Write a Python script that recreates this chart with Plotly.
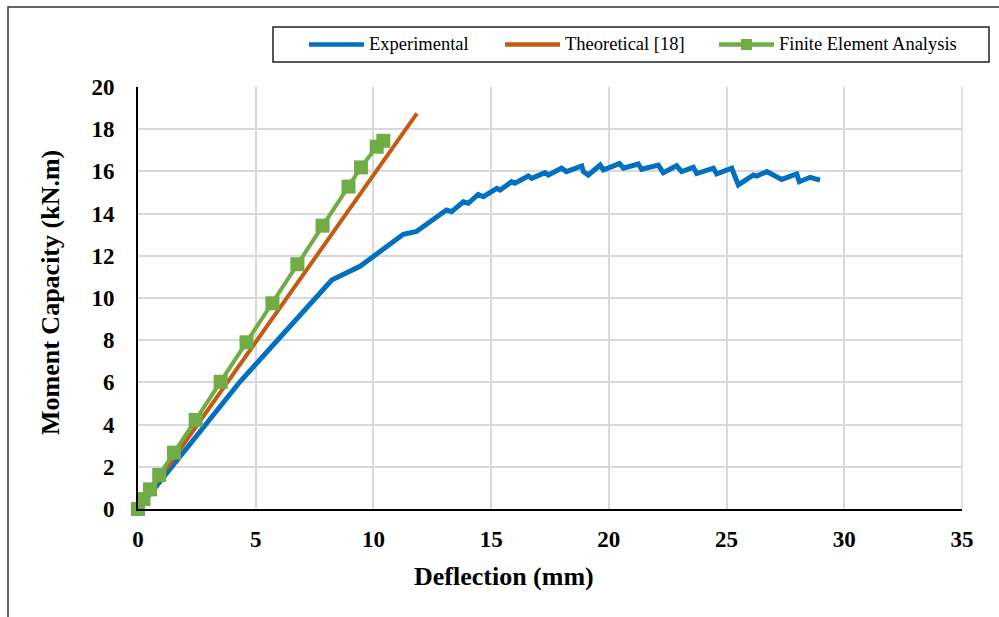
import plotly.graph_objects as go

# Experimental moment-deflection record
exp_defl = [0, 4.33, 8.23, 9.43, 11.27, 11.83, 13.10, 13.32, 13.82, 14.03, 14.45, 14.67,
            15.24, 15.38, 15.87, 16.01, 16.58, 16.72, 17.29, 17.43, 17.99, 18.20, 18.85,
            18.92, 19.13, 19.63, 19.77, 20.45, 20.62, 21.25, 21.39, 22.10, 22.31, 22.88,
            23.09, 23.59, 23.73, 24.44, 24.58, 25.22, 25.50, 26.14, 26.28, 26.71, 27.34,
            27.98, 28.09, 28.55, 28.97]
exp_moment = [0, 6.03, 10.85, 11.50, 13.02, 13.15, 14.17, 14.09, 14.56, 14.49, 14.91, 14.80,
              15.20, 15.12, 15.51, 15.44, 15.78, 15.67, 15.94, 15.83, 16.15, 15.99, 16.26,
              15.99, 15.83, 16.30, 16.07, 16.37, 16.15, 16.35, 16.10, 16.30, 15.94, 16.27,
              15.99, 16.19, 15.90, 16.15, 15.88, 16.15, 15.36, 15.83, 15.78, 15.99, 15.62,
              15.88, 15.51, 15.72, 15.59]

# Theoretical prediction [18]
theo_defl = [0, 11.85]
theo_moment = [0, 18.75]

# Finite element results
fea_defl = [0, 0.23, 0.51, 0.90, 1.53, 2.45, 3.51, 4.61, 5.71, 6.77, 7.84, 8.94, 9.47, 10.14, 10.42]
fea_moment = [0, 0.47, 0.93, 1.61, 2.67, 4.22, 6.03, 7.90, 9.75, 11.60, 13.43, 15.28, 16.19, 17.17, 17.45]

x_ticks = [0, 5, 10, 15, 20, 25, 30, 35]
y_ticks = [0, 2, 4, 6, 8, 10, 12, 14, 16, 18, 20]

series_names = ["Experimental", "Theoretical [18]", "Finite Element Analysis"]
series_colors = ["#0070C0", "#C55A11", "#70AD47"]

SERIF = "Liberation Serif, Times New Roman, serif"
GRID = "#d9d9d9"

W, H = 999, 617
ML, MR, MT, MB = 138, 37, 87, 108
PW, PH = W - ML - MR, H - MT - MB


def px(xp):
    """Horizontal pixel position -> paper fraction."""
    return (xp - ML) / PW


def py(yp):
    """Vertical pixel position (from top) -> paper fraction."""
    return (H - MB - yp) / PH


fig = go.Figure()
fig.add_trace(go.Scatter(x=exp_defl, y=exp_moment, mode="lines", name=series_names[0],
                         line=dict(color=series_colors[0], width=5)))
fig.add_trace(go.Scatter(x=theo_defl, y=theo_moment, mode="lines", name=series_names[1],
                         line=dict(color=series_colors[1], width=4)))
fig.add_trace(go.Scatter(x=fea_defl, y=fea_moment, mode="lines+markers", name=series_names[2],
                         line=dict(color=series_colors[2], width=4), cliponaxis=False,
                         marker=dict(symbol="square", size=14, color=series_colors[2])))

# Boxed legend across the top of the chart
shapes = [
    dict(type="rect", xref="paper", yref="paper", x0=px(273), x1=px(989), y0=py(62), y1=py(27),
         line=dict(color="#222222", width=1.5), fillcolor="white", layer="above"),
]
annotations = []
legend_y = py(44.5)
sample_x = [309, 505, 719]
for i, name in enumerate(series_names):
    x0 = sample_x[i]
    shapes.append(dict(type="line", xref="paper", yref="paper", x0=px(x0), x1=px(x0 + 55),
                       y0=legend_y, y1=legend_y,
                       line=dict(color=series_colors[i], width=4.5), layer="above"))
    annotations.append(dict(text=name, xref="paper", yref="paper", x=px(x0 + 58), y=legend_y,
                            xanchor="left", yanchor="middle", showarrow=False,
                            font=dict(family=SERIF, size=18.5, color="black")))
# square marker on the FEA legend sample
shapes.append(dict(type="rect", xref="paper", yref="paper",
                   x0=px(sample_x[2] + 22), x1=px(sample_x[2] + 33),
                   y0=py(50), y1=py(39), line=dict(width=0),
                   fillcolor=series_colors[2], layer="above"))

# outer chart frame
shapes.append(dict(type="rect", xref="paper", yref="paper", x0=px(8), x1=2, y0=-2, y1=py(7),
                   line=dict(color="#333333", width=1.5), fillcolor="rgba(0,0,0,0)",
                   layer="below"))
# right boundary gridline of the plot area
shapes.append(dict(type="line", xref="paper", yref="paper", x0=1, x1=1, y0=0, y1=1,
                   line=dict(color=GRID, width=1.5), layer="below"))

annotations += [
    dict(text="<b>Deflection (mm)</b>", xref="paper", yref="paper", x=px(504), y=py(576),
         xanchor="center", yanchor="middle", showarrow=False,
         font=dict(family=SERIF, size=26, color="black")),
    dict(text="<b>Moment Capacity (kN.m)</b>", xref="paper", yref="paper", x=px(50), y=py(293),
         xanchor="center", yanchor="middle", textangle=-90, showarrow=False,
         font=dict(family=SERIF, size=26, color="black")),
]

fig.update_layout(
    width=W, height=H,
    margin=dict(l=ML, r=MR, t=MT, b=MB),
    paper_bgcolor="white", plot_bgcolor="white",
    font=dict(family=SERIF, color="black"),
    showlegend=False,
    xaxis=dict(range=[0, 35], tickvals=x_ticks, showgrid=True, gridcolor=GRID, gridwidth=1.5,
               showline=True, linecolor="black", linewidth=2, zeroline=False,
               ticks="", ticklabelstandoff=8,
               tickfont=dict(family=SERIF, size=23, color="black", weight="bold")),
    yaxis=dict(range=[0, 20], tickvals=y_ticks, showgrid=True, gridcolor=GRID, gridwidth=1.5,
               showline=True, linecolor="black", linewidth=2, zeroline=False,
               ticks="", ticklabelstandoff=17,
               tickfont=dict(family=SERIF, size=23, color="black", weight="bold")),
    shapes=shapes,
    annotations=annotations,
)

fig.write_html("out.html")
